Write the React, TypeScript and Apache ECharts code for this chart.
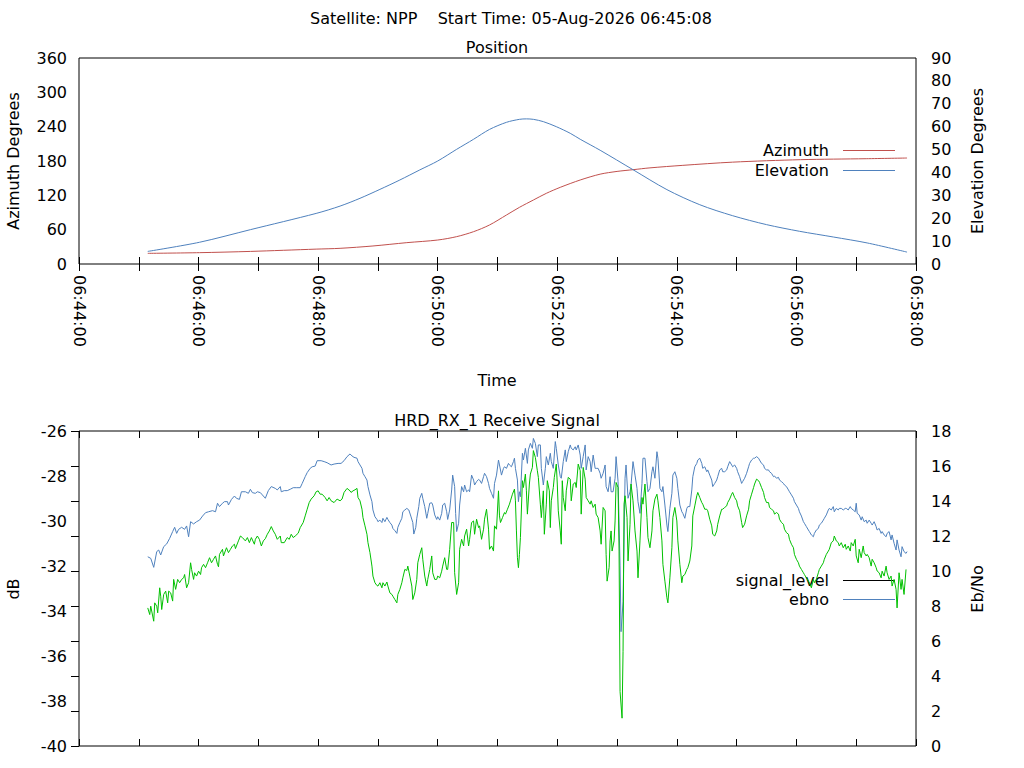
import React, { useEffect, useRef } from "react";
import * as echarts from "echarts";

// time = seconds after 06:44:00
const timeLabels = ["06:44:00", "06:46:00", "06:48:00", "06:50:00", "06:52:00", "06:54:00", "06:56:00", "06:58:00"];

const azimuth: [number, number][] = [
    [69, 18.6], [121, 19.8], [172, 22], [238, 26], [262, 27.4], [295, 31.5], [329, 37.3], [360, 41.9],
    [379, 47.8], [396, 56.5], [412, 68.2], [429, 85.6], [442, 99.0], [456, 111.8], [469, 123.5], [483, 134],
    [503, 146.8], [523, 157], [540, 161.8], [556, 164.8], [573, 168], [606, 172.4], [656, 178], [724, 182.3],
    [790, 184], [831, 185.2],
];

const elevation: [number, number][] = [
    [69, 5.5], [121, 9.5], [172, 15], [238, 22.1], [262, 25.3], [282, 28.7], [302, 32.6], [322, 36.7],
    [342, 41.1], [360, 45.0], [379, 50.1], [396, 54.5], [412, 58.8], [429, 61.9], [442, 63.2], [449, 63.4],
    [456, 63.2], [466, 62.2], [479, 60.0], [493, 57.1], [503, 54.5], [523, 49.7], [556, 41.2], [590, 32.5],
    [623, 25.9], [656, 21.1], [690, 17.2], [723, 14.3], [757, 11.8], [791, 9.2], [831, 5.2],
];

const signalLevel: [number, number][] = [
    [69, -31.59], [72, -31.66], [75, -32.06], [78, -31.36], [80, -31.29], [82, -31.51], [85, -31.14], [88, -31.02],
    [91, -30.77], [94, -30.47], [96, -30.28], [98, -30.55], [100, -30.37], [103, -30.28], [106, -30.37], [108, -30.22],
    [110, -30.70], [112, -30.03], [115, -30.13], [118, -30.03], [121, -29.96], [124, -29.78], [127, -29.63], [130, -29.59],
    [134, -29.54], [137, -29.59], [139, -29.21], [141, -29.36], [144, -29.21], [146, -29.14], [149, -29.14], [150, -29.29],
    [153, -29.04], [156, -28.89], [158, -28.99], [161, -29.04], [163, -28.70], [167, -28.70], [170, -28.77], [172, -28.59],
    [174, -28.74], [177, -28.77], [179, -28.70], [182, -28.74], [184, -28.84], [187, -28.99], [190, -28.65], [193, -28.47],
    [197, -28.55], [199, -28.62], [202, -28.47], [203, -28.70], [206, -28.65], [209, -28.65], [212, -28.59], [215, -28.52],
    [218, -28.52], [222, -28.52], [224, -28.33], [227, -28.03], [229, -27.85], [232, -27.66], [234, -27.59], [237, -27.56],
    [239, -27.32], [243, -27.32], [246, -27.36], [249, -27.41], [253, -27.51], [256, -27.47], [260, -27.44], [263, -27.44],
    [266, -27.32], [269, -27.14], [272, -27.02], [274, -27.11], [276, -27.17], [279, -27.21], [280, -27.36], [282, -27.51],
    [284, -27.66], [285, -27.88], [287, -28.03], [289, -28.18], [290, -28.47], [292, -28.84], [294, -29.14], [295, -29.51],
    [297, -29.81], [299, -29.93], [300, -30.03], [302, -29.96], [304, -30.07], [305, -29.88], [307, -30.03], [309, -29.84],
    [310, -29.93], [312, -30.07], [314, -30.18], [315, -30.33], [317, -30.43], [319, -30.55], [320, -30.28], [322, -30.07],
    [324, -29.88], [325, -29.59], [327, -29.51], [329, -29.44], [331, -29.51], [333, -29.78], [335, -30.07], [336, -30.58],
    [338, -30.28], [339, -29.88], [341, -29.36], [342, -28.99], [344, -28.77], [345, -28.99], [347, -29.36], [349, -29.88],
    [350, -29.66], [352, -29.21], [354, -29.19], [355, -29.29], [357, -29.73], [359, -29.93], [360, -29.81], [362, -29.96],
    [364, -29.66], [365, -29.29], [367, -29.21], [369, -29.59], [370, -29.93], [372, -29.51], [374, -28.62], [375, -27.96],
    [377, -28.47], [378, -29.66], [379, -30.47], [381, -30.10], [382, -29.29], [384, -28.47], [386, -28.70], [387, -28.40],
    [389, -28.70], [391, -28.62], [392, -28.70], [394, -27.96], [396, -28.18], [397, -28.40], [399, -28.25], [401, -28.15],
    [402, -28.18], [404, -28.33], [406, -28.03], [407, -27.88], [409, -28.03], [411, -28.33], [412, -28.55], [414, -28.77],
    [416, -28.99], [417, -28.33], [419, -27.96], [421, -27.29], [422, -27.51], [424, -27.96], [426, -27.66], [427, -27.59],
    [429, -27.66], [431, -27.44], [432, -27.51], [434, -27.59], [436, -27.36], [437, -27.21], [438, -27.66], [440, -28.18],
    [441, -29.14], [442, -28.70], [443, -28.92], [445, -26.99], [446, -27.29], [448, -26.77], [450, -27.44], [451, -26.84],
    [453, -26.55], [455, -26.77], [456, -26.33], [458, -26.55], [460, -27.14], [461, -26.62], [463, -26.62], [464, -27.66],
    [466, -28.40], [468, -27.66], [469, -27.14], [471, -27.51], [473, -26.99], [474, -27.36], [476, -27.66], [478, -26.47],
    [479, -26.77], [481, -27.51], [483, -28.03], [484, -28.10], [486, -27.36], [488, -26.84], [489, -27.36], [491, -26.92],
    [493, -26.62], [494, -26.77], [496, -26.84], [498, -26.70], [499, -26.84], [501, -26.62], [503, -27.07], [504, -27.66],
    [506, -27.14], [508, -26.62], [509, -27.73], [511, -27.14], [513, -27.36], [514, -27.81], [516, -27.07], [518, -27.66],
    [519, -27.66], [521, -27.66], [523, -27.88], [524, -28.10], [526, -27.88], [528, -27.51], [529, -28.47], [531, -28.70],
    [533, -28.03], [534, -28.70], [536, -28.70], [538, -28.10], [539, -27.14], [541, -28.25], [543, -31.96], [544, -34.92],
    [546, -33.59], [548, -28.10], [549, -27.51], [551, -28.99], [553, -28.70], [554, -28.40], [556, -27.36], [558, -27.96],
    [560, -28.55], [561, -29.14], [563, -29.66], [565, -28.33], [566, -27.21], [568, -27.21], [570, -28.25], [571, -28.70],
    [573, -28.55], [575, -27.81], [576, -27.59], [578, -28.10], [580, -26.92], [581, -27.21], [583, -28.55], [585, -28.70],
    [586, -28.47], [588, -29.29], [590, -30.18], [591, -30.47], [593, -29.44], [595, -28.77], [596, -27.96], [598, -27.81],
    [600, -28.10], [601, -28.55], [603, -29.29], [605, -29.59], [606, -29.66], [608, -29.88], [610, -29.44], [611, -29.36],
    [613, -29.36], [615, -28.62], [616, -28.03], [618, -27.59], [620, -27.44], [621, -27.29], [623, -27.21], [625, -27.44],
    [626, -27.66], [628, -27.59], [630, -27.81], [631, -27.73], [633, -27.96], [635, -28.18], [636, -28.47], [638, -28.33],
    [640, -28.18], [641, -28.03], [643, -27.73], [645, -27.66], [646, -27.81], [648, -27.81], [650, -27.73], [651, -27.59],
    [653, -27.36], [655, -27.51], [656, -27.59], [658, -27.51], [660, -27.66], [661, -27.81], [663, -28.03], [665, -28.33],
    [666, -28.25], [668, -28.10], [670, -27.88], [672, -27.59], [673, -27.44], [675, -27.29], [677, -27.21], [678, -27.21],
    [680, -27.14], [682, -27.21], [683, -27.29], [685, -27.44], [687, -27.51], [688, -27.66], [690, -27.73], [692, -27.73],
    [693, -27.81], [695, -27.88], [697, -28.03], [698, -28.00], [700, -28.10], [702, -28.06], [703, -28.18], [705, -28.25],
    [707, -28.33], [708, -28.40], [710, -28.47], [712, -28.62], [713, -28.70], [715, -28.84], [717, -28.99], [718, -29.14],
    [720, -29.29], [722, -29.44], [723, -29.59], [725, -29.78], [727, -30.03], [728, -30.10], [730, -30.25], [732, -30.40],
    [733, -30.47], [735, -30.62], [737, -30.70], [738, -30.55], [740, -30.40], [742, -30.33], [743, -30.18], [745, -30.10],
    [747, -29.96], [748, -29.88], [750, -29.73], [752, -29.51], [753, -29.44], [755, -29.51], [757, -29.36], [758, -29.59],
    [760, -29.44], [762, -29.51], [763, -29.44], [765, -29.44], [767, -29.51], [769, -29.44], [770, -29.44], [772, -29.51],
    [774, -29.36], [775, -29.44], [777, -29.51], [779, -29.59], [780, -29.21], [781, -29.66], [783, -29.73], [785, -29.96],
    [786, -29.81], [788, -30.03], [790, -29.96], [791, -30.10], [793, -29.96], [795, -30.10], [796, -30.18], [798, -30.03],
    [800, -30.25], [801, -30.40], [803, -30.33], [805, -30.55], [806, -30.47], [808, -30.62], [810, -30.70], [811, -30.55],
    [813, -30.47], [815, -30.84], [816, -30.62], [818, -30.99], [820, -31.29], [821, -30.84], [823, -31.29], [825, -31.59],
    [826, -31.14], [828, -31.36], [830, -31.44], [831, -31.36],
];

const ebno: [number, number][] = [
    [69, 7.89], [71, 7.51], [72, 7.99], [75, 7.13], [76, 8.18], [78, 7.99], [79, 7.61], [81, 9.04],
    [82, 8.56], [83, 7.80], [85, 8.66], [87, 8.85], [89, 8.18], [90, 8.85], [92, 8.75], [94, 8.28],
    [95, 9.52], [97, 8.95], [99, 9.52], [101, 9.33], [103, 9.52], [105, 9.61], [106, 9.80], [108, 9.04],
    [110, 9.33], [112, 10.47], [113, 10.09], [115, 9.52], [116, 9.90], [118, 9.71], [120, 9.99], [122, 9.80],
    [123, 10.19], [125, 10.38], [127, 10.19], [129, 10.47], [131, 10.76], [133, 10.47], [135, 10.67], [137, 10.86],
    [139, 10.38], [140, 10.24], [141, 10.95], [144, 11.24], [145, 10.86], [148, 11.33], [150, 11.05], [152, 11.24],
    [154, 11.43], [156, 11.53], [157, 11.28], [160, 11.72], [162, 12.00], [164, 11.91], [167, 11.72], [169, 11.91],
    [171, 11.62], [173, 11.91], [176, 11.53], [177, 11.81], [179, 12.00], [181, 11.81], [183, 11.43], [185, 11.72],
    [187, 11.85], [189, 12.10], [191, 12.29], [193, 12.54], [195, 12.29], [197, 12.10], [199, 11.81], [202, 12.00],
    [203, 11.62], [206, 11.62], [209, 11.91], [211, 11.81], [213, 12.10], [215, 11.91], [217, 12.00], [220, 12.16],
    [222, 12.48], [225, 12.77], [227, 13.15], [229, 13.53], [231, 13.91], [233, 14.11], [236, 14.30], [238, 14.53],
    [240, 14.58], [242, 14.39], [244, 14.39], [247, 14.20], [249, 14.01], [251, 14.20], [253, 14.01], [256, 13.91],
    [259, 14.11], [262, 14.01], [264, 14.11], [266, 14.49], [269, 14.72], [272, 14.58], [273, 14.49], [275, 14.58],
    [277, 14.64], [279, 14.72], [280, 14.20], [282, 14.01], [284, 13.53], [285, 13.05], [287, 12.58], [289, 12.10],
    [290, 11.62], [292, 11.05], [294, 10.28], [295, 9.71], [297, 9.33], [299, 9.17], [300, 9.14], [302, 9.33],
    [304, 9.04], [305, 9.33], [307, 9.14], [309, 9.37], [310, 9.14], [312, 8.75], [314, 8.66], [315, 8.56],
    [317, 8.37], [319, 8.18], [320, 8.66], [322, 8.95], [324, 9.33], [325, 9.61], [327, 10.09], [329, 10.03],
    [330, 10.28], [332, 9.71], [334, 9.14], [335, 8.37], [337, 8.75], [339, 9.52], [340, 10.47], [342, 10.95],
    [344, 11.33], [345, 10.67], [347, 9.71], [349, 9.14], [350, 9.52], [352, 10.09], [354, 10.86], [355, 9.90],
    [357, 9.52], [359, 9.52], [360, 9.71], [362, 9.61], [364, 9.99], [365, 10.28], [367, 10.76], [369, 10.09],
    [370, 10.09], [372, 11.24], [374, 12.77], [376, 12.77], [377, 9.90], [379, 8.66], [381, 9.33], [382, 11.24],
    [384, 11.81], [386, 11.43], [387, 12.00], [389, 12.39], [391, 11.43], [392, 11.81], [394, 12.77], [396, 12.86],
    [397, 12.10], [399, 12.96], [401, 12.48], [402, 12.58], [404, 11.81], [406, 12.39], [407, 12.96], [409, 13.53],
    [411, 12.39], [412, 11.24], [414, 11.43], [416, 11.14], [417, 12.58], [419, 12.39], [421, 14.58], [422, 13.15],
    [423, 12.77], [425, 13.05], [427, 13.34], [428, 13.25], [430, 13.53], [432, 13.82], [433, 14.01], [435, 14.39],
    [437, 14.68], [438, 14.01], [439, 12.29], [440, 10.76], [441, 10.19], [442, 10.95], [443, 11.91], [445, 15.16],
    [446, 14.77], [448, 15.54], [449, 14.58], [450, 13.25], [452, 14.97], [453, 15.54], [455, 15.92], [456, 16.88],
    [458, 16.49], [460, 15.73], [461, 15.35], [463, 13.82], [464, 13.05], [466, 14.58], [467, 12.10], [469, 13.82],
    [470, 15.16], [472, 14.58], [473, 12.48], [474, 14.01], [476, 14.77], [477, 15.35], [479, 16.11], [480, 14.97],
    [481, 13.44], [483, 12.29], [484, 11.53], [485, 15.16], [486, 14.20], [488, 13.44], [489, 14.58], [491, 15.35],
    [493, 15.25], [494, 14.01], [496, 14.97], [498, 15.06], [499, 14.77], [501, 16.11], [503, 15.73], [504, 13.25],
    [506, 15.92], [508, 15.25], [509, 14.20], [511, 14.01], [513, 13.82], [514, 14.01], [516, 13.63], [518, 13.82],
    [519, 13.25], [521, 13.05], [523, 12.29], [524, 11.53], [526, 13.63], [528, 13.44], [529, 10.95], [530, 9.42],
    [532, 10.19], [533, 11.72], [534, 12.29], [535, 11.14], [537, 11.72], [538, 12.86], [539, 15.06], [541, 14.77],
    [542, 11.14], [543, 3.12], [545, 1.59], [546, 5.41], [547, 13.82], [548, 14.30], [550, 13.05], [551, 10.57],
    [553, 12.67], [554, 14.97], [556, 14.01], [558, 12.29], [560, 11.14], [561, 9.61], [563, 11.72], [565, 14.20],
    [566, 13.82], [568, 14.97], [570, 13.05], [571, 11.91], [573, 11.33], [575, 12.29], [576, 13.44], [578, 14.11],
    [580, 14.39], [581, 14.01], [583, 13.05], [585, 11.72], [586, 10.38], [588, 9.42], [590, 8.47], [591, 8.18],
    [593, 9.61], [595, 11.33], [596, 13.05], [598, 13.63], [600, 12.86], [601, 11.72], [603, 10.38], [605, 9.33],
    [606, 9.71], [608, 9.80], [610, 10.09], [611, 10.19], [613, 10.57], [615, 11.43], [616, 13.15], [618, 13.72],
    [620, 14.30], [621, 14.49], [623, 14.20], [625, 13.91], [626, 13.82], [628, 13.53], [630, 13.53], [631, 13.44],
    [633, 12.96], [635, 12.58], [636, 12.10], [638, 12.00], [640, 12.29], [641, 12.67], [643, 13.15], [645, 13.53],
    [646, 13.53], [648, 13.63], [650, 13.72], [651, 13.91], [653, 14.11], [655, 14.39], [656, 14.49], [658, 14.20],
    [660, 14.01], [661, 13.72], [663, 13.44], [665, 12.77], [666, 12.48], [668, 12.67], [670, 13.15], [672, 13.53],
    [673, 14.01], [675, 14.39], [677, 14.77], [678, 14.97], [680, 15.25], [682, 15.16], [683, 15.06], [685, 14.77],
    [687, 14.49], [688, 14.20], [690, 13.91], [692, 13.91], [693, 13.63], [695, 13.53], [697, 13.44], [698, 13.25],
    [700, 13.34], [702, 13.25], [703, 12.96], [705, 12.77], [707, 12.67], [708, 12.39], [710, 12.19], [712, 12.10],
    [713, 11.81], [715, 11.53], [717, 11.33], [718, 10.95], [720, 10.67], [722, 10.47], [723, 10.28], [725, 10.09],
    [727, 9.90], [728, 9.80], [730, 9.61], [732, 9.42], [733, 9.33], [735, 9.04], [737, 9.52], [738, 9.33],
    [740, 9.52], [742, 9.90], [743, 10.09], [745, 10.28], [747, 10.47], [748, 10.67], [750, 10.95], [752, 11.14],
    [753, 11.24], [755, 11.62], [757, 11.72], [758, 12.00], [760, 11.72], [762, 11.62], [763, 11.43], [765, 11.62],
    [767, 11.33], [769, 11.53], [770, 11.24], [772, 11.43], [774, 11.14], [775, 11.62], [777, 11.43], [779, 11.81],
    [780, 10.86], [782, 10.47], [783, 11.24], [785, 10.76], [787, 11.43], [788, 11.05], [790, 10.86], [791, 10.95],
    [793, 10.76], [795, 10.28], [796, 10.67], [798, 10.47], [800, 10.19], [801, 10.00], [803, 9.90], [805, 9.61],
    [806, 9.99], [808, 9.71], [810, 10.28], [811, 9.90], [813, 9.52], [815, 9.71], [816, 9.14], [818, 9.52],
    [820, 8.95], [821, 7.89], [823, 9.90], [825, 8.95], [826, 9.52], [828, 8.66], [830, 10.09],
];

const FONT = "DejaVu Sans";
const RED = "#c0504d";
const BLUE = "#4f81bd";
const GREEN = "#00c000";

const label = { color: "#000", fontFamily: FONT, fontSize: 16 };

const timeAxis = (gridIndex: number, position: string, showLabel: boolean) => ({
    type: "value",
    gridIndex,
    position,
    min: 0,
    max: 840,
    interval: 60,
    axisLine: { show: false },
    axisTick: { show: true, inside: true, length: 7, lineStyle: { color: "#000", width: 1 } },
    splitLine: { show: false },
    axisLabel: showLabel
        ? {
              ...label,
              rotate: -90,
              margin: 11,
              formatter: (v: number) => (v % 120 === 0 ? timeLabels[v / 120] : ""),
          }
        : { show: false },
});

const valueAxis = (gridIndex: number, position: string, min: number, max: number, interval: number, ticks: boolean) => ({
    type: "value",
    gridIndex,
    position,
    min,
    max,
    interval,
    axisLine: { show: false },
    axisTick: { show: ticks, inside: true, length: 8, lineStyle: { color: "#000" } },
    splitLine: { show: false },
    axisLabel: { ...label, margin: position === "left" ? 12 : 15 },
});

const text = (t: string, x: number, y: number, rot = 0, align = "center") => ({
    type: "text",
    x,
    y,
    rotation: rot,
    silent: true,
    style: { text: t, x: 0, y: 0, fill: "#000", font: `16px '${FONT}'`, textAlign: align, textVerticalAlign: "middle" },
});

const legendLine = (y: number, color: string) => ({
    type: "line",
    silent: true,
    shape: { x1: 843, y1: y, x2: 895, y2: y },
    style: { stroke: color, lineWidth: 1 },
});

const App = () => {
    const chartRef = useRef<HTMLDivElement>(null);

    useEffect(() => {
        const chart = echarts.init(chartRef.current, null, { renderer: "svg" });
        const option = {
            animation: false,
            backgroundColor: "#fff",
            textStyle: { fontFamily: FONT },
            grid: [
                { left: 79, top: 58, width: 837, height: 206, show: true, borderColor: "#000", borderWidth: 1 },
                { left: 79, top: 431, width: 837, height: 315, show: true, borderColor: "#000", borderWidth: 1 },
            ],
            xAxis: [
                timeAxis(0, "bottom", true),
                timeAxis(0, "top", false),
                timeAxis(1, "bottom", false),
                timeAxis(1, "top", false),
            ],
            yAxis: [
                valueAxis(0, "left", 0, 360, 60, false),
                valueAxis(0, "right", 0, 90, 10, false),
                valueAxis(1, "left", -40, -26, 2, false),
                valueAxis(1, "right", 0, 18, 2, true),
            ],
            series: [
                {
                    name: "Azimuth", type: "line", xAxisIndex: 0, yAxisIndex: 0, data: azimuth,
                    showSymbol: false, smooth: 0.3, lineStyle: { color: RED, width: 1 },
                },
                {
                    name: "Elevation", type: "line", xAxisIndex: 0, yAxisIndex: 1, data: elevation,
                    showSymbol: false, smooth: 0.3, lineStyle: { color: BLUE, width: 1 },
                },
                {
                    name: "signal_level", type: "line", xAxisIndex: 2, yAxisIndex: 2, data: signalLevel,
                    showSymbol: false, lineStyle: { color: BLUE, width: 1 },
                },
                {
                    name: "ebno", type: "line", xAxisIndex: 2, yAxisIndex: 3, data: ebno,
                    showSymbol: false, lineStyle: { color: GREEN, width: 1 },
                },
            ],
            graphic: [
                text("Satellite: NPP    Start Time: 05-Aug-2026 06:45:08", 511, 18),
                text("Position", 497, 47),
                text("Time", 497, 380),
                text("HRD_RX_1 Receive Signal", 497, 420),
                text("Azimuth Degrees", 13, 161, Math.PI / 2),
                text("Elevation Degrees", 977, 161, Math.PI / 2),
                text("dB", 13, 589, Math.PI / 2),
                text("Eb/No", 977, 589, Math.PI / 2),
                text("Azimuth", 829, 150, 0, "right"),
                legendLine(150.5, RED),
                text("Elevation", 829, 170, 0, "right"),
                legendLine(170.5, BLUE),
                text("signal_level", 829, 580, 0, "right"),
                legendLine(580.5, "#000"),
                text("ebno", 829, 599, 0, "right"),
                legendLine(599.5, BLUE),
            ],
        };
        chart.setOption(option);
        return () => chart.dispose();
    }, []);

    return <div ref={chartRef} style={{ position: "absolute", left: 0, top: 0, width: 1024, height: 768 }} />;
};

export default App;
